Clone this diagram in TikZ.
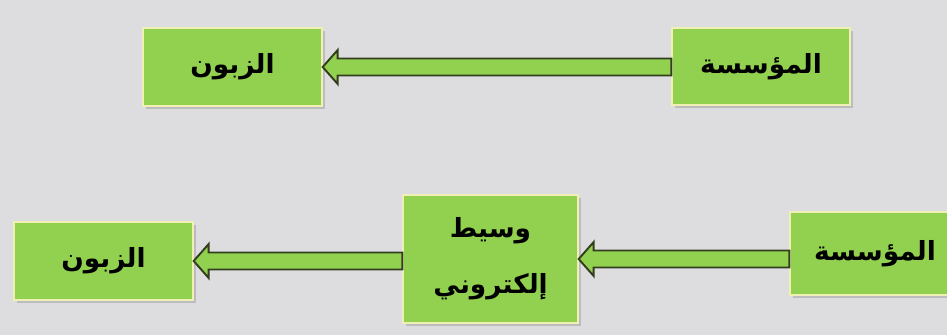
\documentclass[tikz,border=0pt]{standalone}
\usepackage{fontspec}
\newfontfamily\arabicfont[Script=Arabic]{DejaVu Sans}
\TeXXeTstate=1
\usetikzlibrary{calc,shadows}

\definecolor{slidebg}{RGB}{221,221,224}
\definecolor{boxgreen}{RGB}{146,208,80}
\definecolor{boxedge}{RGB}{240,240,180}
\definecolor{arrowedge}{RGB}{50,62,30}

\tikzset{
  entity/.style={draw=boxedge, fill=boxgreen, line width=0.8pt,
    drop shadow={shadow xshift=1.5pt, shadow yshift=-1.5pt, opacity=0.35},
    font=\arabicfont\bfseries\fontsize{15}{32}\selectfont, align=center, inner sep=0pt},
  arrowbody/.style={draw=arrowedge, fill=boxgreen, line width=1.1pt, line join=miter}
}

% block arrow from the west side of #1 to the east side of #2
\newcommand{\flowarrow}[2]{%
  \draw[arrowbody] ($(#1.west |- #2.east)+(0,-8.5)$) -- ($(#2.east)+(15,-8.5)$)
    -- ($(#2.east)+(15,-17)$) -- (#2.east) -- ($(#2.east)+(15,17)$)
    -- ($(#2.east)+(15,8.5)$) -- ($(#1.west |- #2.east)+(0,8.5)$) -- cycle;}

\begin{document}
\begin{tikzpicture}[x=0.02cm, y=-0.02cm]
\clip (0,0) rectangle (947,335);
\fill[slidebg] (0,0) rectangle (947,335);

% direct channel
\node[entity, minimum width=3.58cm, minimum height=1.56cm] (cust1) at (232.5,67) {\beginR الزبون\endR};
\node[entity, minimum width=3.56cm, minimum height=1.54cm] (inst1) at (761,66.5) {\beginR المؤسسة\endR};
\flowarrow{inst1}{cust1}

% channel through an intermediary
\node[entity, minimum width=3.58cm, minimum height=1.56cm] (cust2) at (103.5,261) {\beginR الزبون\endR};
\node[entity, minimum width=3.5cm, minimum height=2.56cm] (broker) at (490.5,259) {\beginR وسيط\endR\\ \beginR إلكتروني\endR};
\node[entity, minimum width=3.4cm, minimum height=1.66cm] (inst2) at (875,253.5) {\beginR المؤسسة\endR};
\flowarrow{inst2}{broker}
\flowarrow{broker}{cust2}
\end{tikzpicture}
\end{document}
